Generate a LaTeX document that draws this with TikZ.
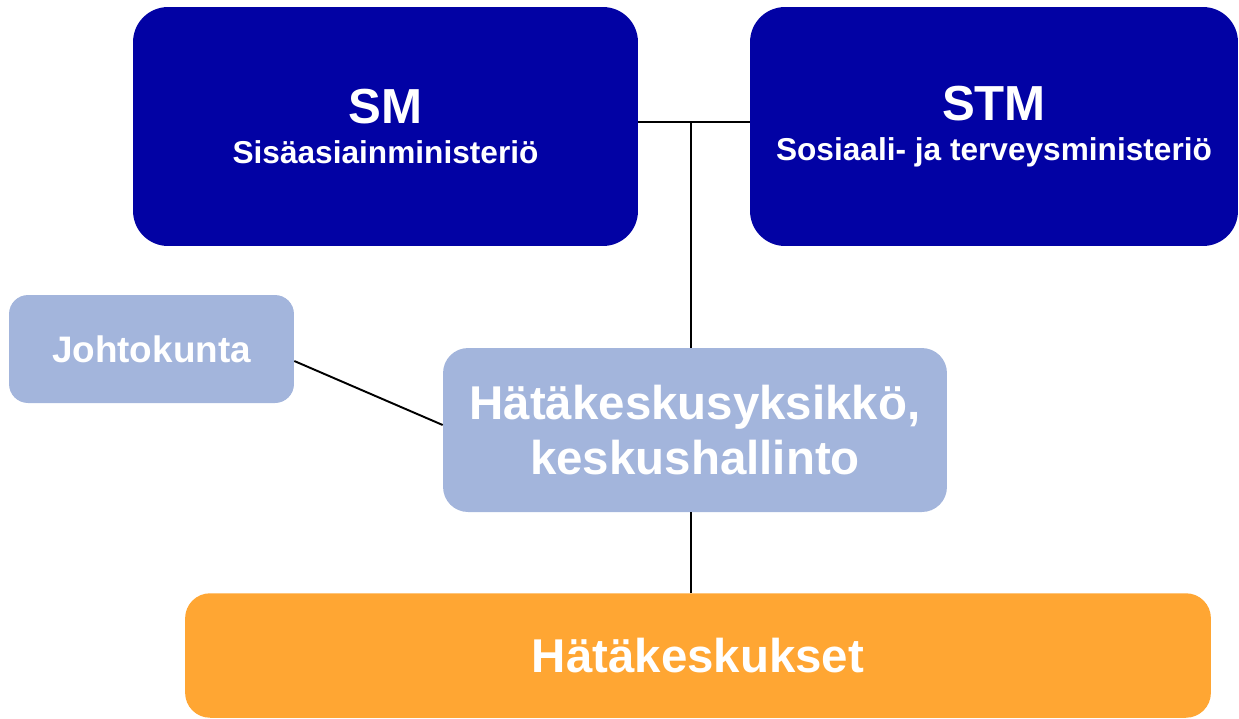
\documentclass[tikz,border=0pt]{standalone}
\usepackage{fontspec}
\setmainfont{Liberation Sans}
\definecolor{smblue}{RGB}{2,2,164}
\definecolor{unitblue}{RGB}{163,181,220}
\definecolor{hkorange}{RGB}{255,166,51}
\begin{document}
\begin{tikzpicture}[x=0.02cm,y=-0.02cm,
		ministry/.style={fill=smblue, text=white, rounded corners=0.7cm, align=center, font=\bfseries\fontsize{18}{23}\selectfont},
		unit/.style={fill=unitblue, text=white, align=center, font=\bfseries},
		link/.style={line width=1.1pt}]
		\useasboundingbox (0,0) rectangle (1239,718);

		\draw (385.5,126.5) node[ministry, minimum width=10.1cm, minimum height=4.78cm] (sm) {{\fontsize{28}{28}\selectfont SM}\\Sisäasiainministeriö};
		\draw (994,126.5) node[ministry, minimum width=9.76cm, minimum height=4.78cm] (stm) {{\fontsize{28}{28}\selectfont STM}\\Sosiaali- ja terveysministeriö};

		\draw (151.5,349) node[unit, rounded corners=0.38cm, minimum width=5.7cm, minimum height=2.16cm, font=\bfseries\fontsize{21}{24}\selectfont] (johto) {Johtokunta};
		\draw (695,430) node[unit, rounded corners=0.5cm, minimum width=10.08cm, minimum height=3.28cm, font=\bfseries\fontsize{27}{31}\selectfont] (unit) {Hätäkeskusyksikkö,\\keskushallinto};
		\draw (698,655.5) node[unit, fill=hkorange, rounded corners=0.5cm, minimum width=20.52cm, minimum height=2.49cm, font=\bfseries\fontsize{27}{31}\selectfont] (hks) {Hätäkeskukset};

		\coordinate (j) at (691,122);

		\draw [link] (sm.east |- j) -- (stm.west |- j);
		\draw [link] (j) -- (unit.north -| j);
		\draw [link] (unit.south -| j) -- (hks.north -| j);
		\draw [link] (johto.east) ++(0,12) -- ([yshift=0.1cm]unit.west);
	\end{tikzpicture}
\end{document}
